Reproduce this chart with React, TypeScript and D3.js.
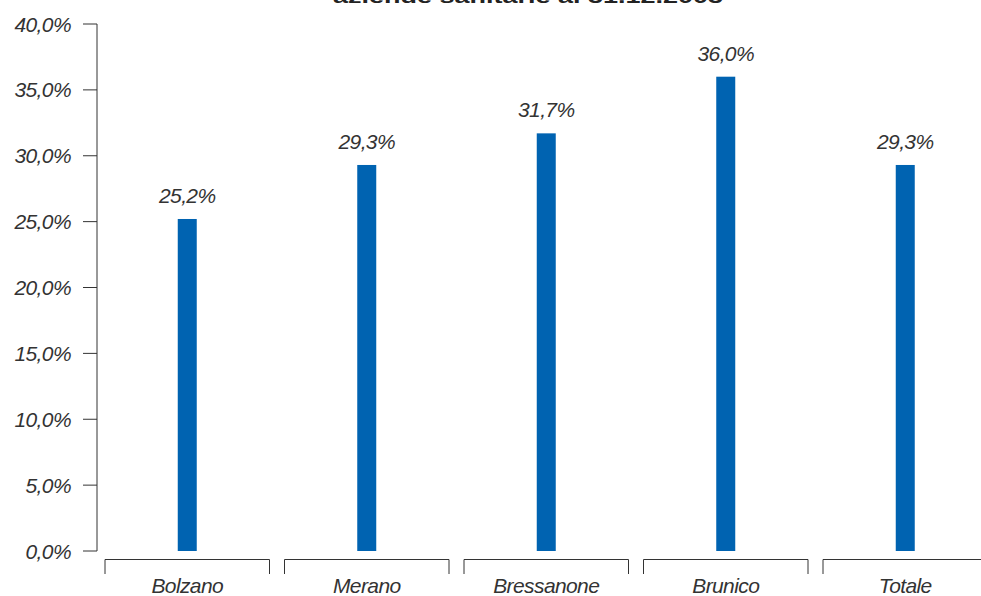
import React from "react";
import * as d3 from "d3";

const categories = ["Bolzano", "Merano", "Bressanone", "Brunico", "Totale"];
const values = [25.2, 29.3, 31.7, 36.0, 29.3];
const yTicks = [0, 5, 10, 15, 20, 25, 30, 35, 40];
const titleText = "aziende sanitarie al 31.12.2003";

const W = 981;
const H = 596;
const fmt = (v: number) => v.toFixed(1).replace(".", ",") + "%";

export default function App() {
  const y = d3.scaleLinear().domain([0, 40]).range([551, 24]);
  const x = d3.scaleBand<string>().domain(categories).range([97.5, 995]).paddingInner(0).paddingOuter(0);
  const barW = 19;
  const font = "'Liberation Sans', Arial, sans-serif";
  return (
    <svg width={W} height={H} style={{ position: "absolute", left: 0, top: 0, background: "#fff" }}>
      <text x={528} y={3} textAnchor="middle" fontFamily={font} fontWeight="bold" fontSize={18} fill="#222"
        textLength={390} lengthAdjust="spacingAndGlyphs">{titleText}</text>
      {/* y axis */}
      <line x1={97} x2={97} y1={y(40)} y2={y(0)} stroke="#333" strokeWidth={1} />
      {yTicks.map((t) => (
        <g key={t}>
          <line x1={83} x2={97} y1={y(t)} y2={y(t)} stroke="#333" strokeWidth={1} />
          <text x={71} y={y(t) + 7.5} textAnchor="end" fontFamily={font} fontStyle="italic" fontSize={21}
            letterSpacing={-0.6} fill="#333">{fmt(t)}</text>
        </g>
      ))}
      {categories.map((c, i) => {
        const x0 = x(c)!;
        const bw = x.bandwidth();
        const cx = x0 + bw / 2;
        return (
          <g key={c}>
            <rect x={cx - barW / 2} y={y(values[i])} width={barW} height={y(0) - y(values[i])} fill="#0063b1" />
            <text x={cx} y={y(values[i]) - 16} textAnchor="middle" fontFamily={font} fontStyle="italic"
              fontSize={21} letterSpacing={-0.6} fill="#333">{fmt(values[i])}</text>
            <path d={`M${x0 + 7.5},574V559.5H${x0 + bw - 7.5}V574`} fill="none" stroke="#333" strokeWidth={1} />
            <text x={cx} y={593} textAnchor="middle" fontFamily={font} fontStyle="italic" fontSize={21}
              letterSpacing={-0.6} fill="#333">{c}</text>
          </g>
        );
      })}
    </svg>
  );
}
